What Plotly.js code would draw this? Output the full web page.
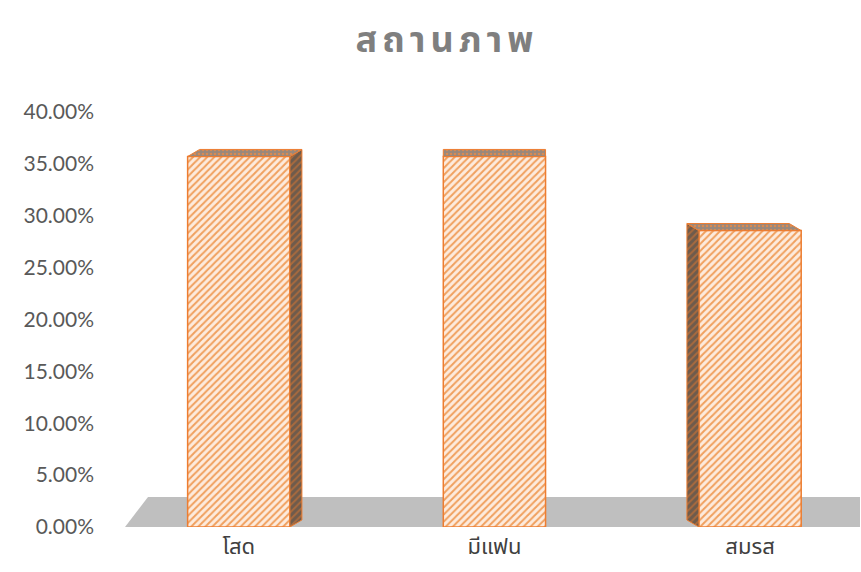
<!DOCTYPE html>
<html><head><meta charset="utf-8">
<script src="https://cdn.plot.ly/plotly-3.0.1.min.js"></script>
<style>body{margin:0;background:#fff}</style>
</head><body>
<div id="chart" style="width:861px;height:572px"></div>
<script>
const categories = ["โสด", "มีแฟน", "สมรส"];
const values = [0.3571, 0.3571, 0.2857];
const yTicks = [0, 0.05, 0.10, 0.15, 0.20, 0.25, 0.30, 0.35, 0.40];
const chartTitle = "สถานภาพ";

const xs = categories.map((c, i) => i);
const barW = 0.4;
const depthY = 0.0068;
const depthX = xs.map(i => -0.047 * (i - 1));
const orange = "#ed7d31";
const thaiFont = "'Noto Sans Thai', 'Noto Sans Thai UI', Tahoma, 'Leelawadee UI', 'DejaVu Sans', sans-serif";

const traces = [];
xs.forEach((x, i) => {
  const v = values[i], dx = depthX[i];
  const edge = dx >= 0 ? x + barW / 2 : x - barW / 2;
  if (Math.abs(dx) > 0.005) {
    traces.push({
      type: "scatter", mode: "lines", hoverinfo: "skip", showlegend: false,
      x: [edge, edge, edge + dx, edge + dx, edge],
      y: [0, v, v + depthY, depthY, 0],
      fill: "toself", fillcolor: "#6e5b4c",
      fillpattern: {shape: "/", fgcolor: "#a86a3e", bgcolor: "#6e5b4c", size: 5, solidity: 0.4},
      line: {color: orange, width: 1}
    });
  }
  traces.push({
    type: "scatter", mode: "lines", hoverinfo: "skip", showlegend: false,
    x: [x - barW / 2, x + barW / 2, x + barW / 2 + dx, x - barW / 2 + dx, x - barW / 2],
    y: [v, v, v + depthY, v + depthY, v],
    fill: "toself", fillcolor: "#98887c",
    fillpattern: {shape: ".", fgcolor: "#d88a52", bgcolor: "#98887c", size: 4, solidity: 0.35},
    line: {color: orange, width: 1}
  });
});

traces.unshift({
  type: "bar", x: xs, y: values, width: barW, showlegend: false,
  marker: {
    color: "#fde9d9",
    line: {color: orange, width: 1.5},
    pattern: {shape: "/", fgcolor: "#f0a05e", bgcolor: "#fdebdd", size: 5, solidity: 0.4, fillmode: "replace"}
  },
  hovertemplate: "%{y:.2%}<extra></extra>"
});

const layout = {
  width: 861, height: 572,
  margin: {l: 125, r: 1, t: 112, b: 45},
  paper_bgcolor: "#ffffff", plot_bgcolor: "rgba(0,0,0,0)",
  title: {
    text: chartTitle, x: 447 / 861, xref: "container", xanchor: "center",
    y: 1 - 39 / 572, yref: "container", yanchor: "middle",
    font: {family: thaiFont, size: 36, color: "#7f7f7f", weight: "bold"}
  },
  xaxis: {
    range: [-0.445, 2.43], tickvals: xs, ticktext: categories,
    showgrid: false, zeroline: false, showline: false, ticks: "",
    tickfont: {family: thaiFont, size: 22, color: "#404040"}, ticklabelstandoff: 4
  },
  yaxis: {
    range: [0, 0.40], tickvals: yTicks, tickformat: ".2%",
    showgrid: false, zeroline: false, showline: false, ticks: "",
    tickfont: {family: "Lato, 'Open Sans', sans-serif", size: 21, color: "#595959"},
    ticklabelstandoff: 30
  },
  shapes: [{
    type: "path", xref: "x", yref: "y", layer: "below",
    path: "M -0.445 0 L -0.355 0.029 L 2.43 0.029 L 2.43 0 Z",
    fillcolor: "#bfbfbf", line: {width: 0}
  }]
};

Plotly.newPlot("chart", traces, layout, {displayModeBar: false, staticPlot: true}).then(() => {
  const t = document.querySelector(".gtitle");
  if (t) t.style.letterSpacing = "5px";
});
</script>
</body></html>
